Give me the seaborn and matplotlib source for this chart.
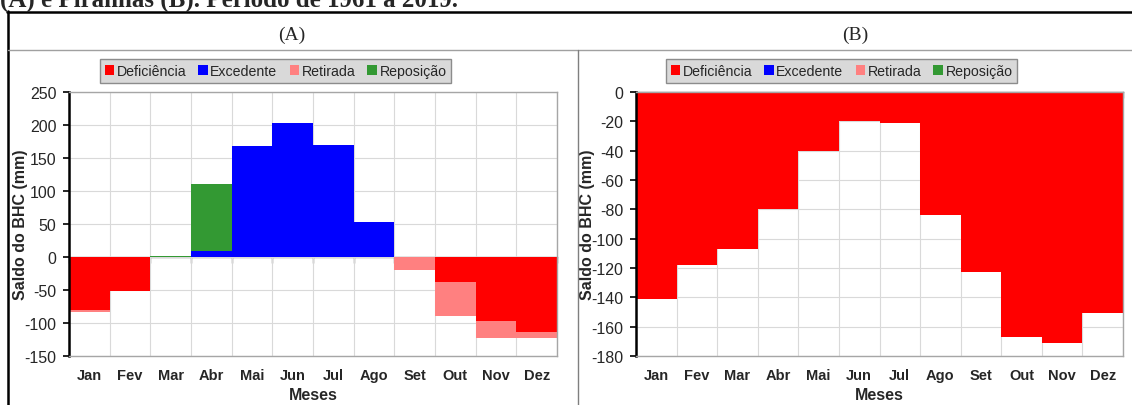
import numpy as np
import matplotlib
matplotlib.use("Agg")
import matplotlib.pyplot as plt
from matplotlib.patches import Patch
from matplotlib.lines import Line2D
import seaborn as sns

# Balanço hídrico climatológico – saldo mensal (mm)
meses = ["Jan", "Fev", "Mar", "Abr", "Mai", "Jun", "Jul", "Ago", "Set", "Out", "Nov", "Dez"]

# (A)
deficiencia_a = [-80, -52, 0, 0, 0, 0, 0, 0, 0, -38, -97, -114]
retirada_a = [-3, 0, 0, 0, 0, 0, 0, 0, -20, -51, -26, -9]
excedente_a = [0, 0, 0, 9, 168, 203, 170, 53, 0, 0, 0, 0]
reposicao_a = [0, 0, 1.5, 101, 0, 0, 0, 0, 0, 0, 0, 0]

# (B)
deficiencia_b = [-141, -118, -107, -80, -40, -20, -21, -84, -123, -167, -171, -151]
retirada_b = [0] * 12
excedente_b = [0] * 12
reposicao_b = [0] * 12

yticks_a = [250, 200, 150, 100, 50, 0, -50, -100, -150]
yticks_b = [0, -20, -40, -60, -80, -100, -120, -140, -160, -180]

componentes = ["Deficiência", "Excedente", "Retirada", "Reposição"]
cores = {"Deficiência": "#ff0000", "Excedente": "#0000ff",
         "Retirada": "#ff8080", "Reposição": "#339933"}

sns.set_style("white")
plt.rcParams["font.family"] = ["Liberation Sans", "DejaVu Sans"]

W, H = 1132, 406
fig = plt.figure(figsize=(W / 100, H / 100), dpi=100)


def fx(px):
    return px / W


def fy(py):
    return 1 - py / H


def barras(ax, valores, base, cor):
    sns.barplot(x=meses, y=valores, bottom=base, order=meses, color=cor,
                width=1.0, saturation=1, linewidth=0, errorbar=None, ax=ax)


def painel(ax, deficiencia, retirada, excedente, reposicao, ylim, yticks):
    barras(ax, deficiencia, 0, cores["Deficiência"])
    barras(ax, retirada, deficiencia, cores["Retirada"])
    barras(ax, excedente, 0, cores["Excedente"])
    barras(ax, reposicao, excedente, cores["Reposição"])

    ax.set_xlim(-0.5, 11.5)
    ax.set_ylim(*ylim)
    ax.set_yticks(yticks)
    ax.set_yticklabels([str(v) for v in yticks], fontsize=11.5)
    ax.set_xticks(range(12))
    ax.set_xticklabels(meses, fontsize=10.5, fontweight="bold")
    ax.set_xticks(np.arange(-0.5, 12, 1), minor=True)
    ax.tick_params(axis="x", which="both", length=0, pad=9)
    ax.tick_params(axis="y", which="major", direction="out", length=4,
                   width=1.2, color="black", left=True, pad=5)

    ax.grid(False)
    ax.grid(which="minor", axis="x", color="#d9d9d9", lw=0.8)
    ax.grid(which="major", axis="y", color="#d9d9d9", lw=0.8)
    ax.set_axisbelow(True)

    for lado in ["top", "right", "bottom"]:
        ax.spines[lado].set_color("#a6a6a6")
        ax.spines[lado].set_linewidth(1.0)
    ax.spines["left"].set_color("black")
    ax.spines["left"].set_linewidth(1.8)

    ax.set_xlabel("Meses", fontsize=11.5, fontweight="bold", labelpad=3)
    ax.set_ylabel("Saldo do BHC (mm)", fontsize=11.5, fontweight="bold")

    # eixo das categorias passando pelo zero
    zero = (0 - ylim[0]) / (ylim[1] - ylim[0])
    loc = "top" if zero >= 1 else zero
    sec = ax.secondary_xaxis(loc)
    sec.set_xticks(np.arange(-0.5, 12, 1))
    sec.set_xticklabels([""] * 13)
    sec.tick_params(length=4, width=1.0, color="#7f7f7f",
                    direction="in" if loc == "top" else "out")
    for s in sec.spines.values():
        s.set_color("#7f7f7f")
        s.set_linewidth(1.0)


ax_a = fig.add_axes([fx(69), fy(357), fx(557 - 69), fy(93) - fy(357)])
ax_b = fig.add_axes([fx(636), fy(357), fx(1123 - 636), fy(93) - fy(357)])

painel(ax_a, deficiencia_a, retirada_a, excedente_a, reposicao_a, (-150, 250), yticks_a)
painel(ax_b, deficiencia_b, retirada_b, excedente_b, reposicao_b, (-180, 0), yticks_b)
ax_a.yaxis.set_label_coords(-0.084, 0.5)
ax_b.yaxis.set_label_coords(-0.084, 0.5)

# legendas
handles = [Patch(facecolor=cores[c], edgecolor="none", label=c) for c in componentes]
for cx in (275.5, 841.5):
    fig.legend(handles=handles, loc="center", bbox_to_anchor=(fx(cx), fy(72)),
               ncol=4, fontsize=10.2, frameon=True, fancybox=False,
               facecolor="#d9d9d9", edgecolor="#8c8c8c", framealpha=1,
               handlelength=0.65, handleheight=0.65, handletextpad=0.2,
               columnspacing=0.85, borderpad=0.35, borderaxespad=0)

# cabeçalho da tabela
fig.text(fx(292), fy(35), "(A)", ha="center", va="center",
         family="Liberation Serif", fontsize=14)
fig.text(fx(855), fy(35), "(B)", ha="center", va="center",
         family="Liberation Serif", fontsize=14)
fig.text(fx(0), fy(7), "(A) e Piranhas (B). Período de 1961 a 2019.",
         ha="left", va="baseline", family="Liberation Serif",
         fontweight="bold", fontsize=18)

# linhas da tabela
fig.add_artist(Line2D([fx(7), 1], [fy(12.5), fy(12.5)], color="black", lw=1.8))
fig.add_artist(Line2D([fx(7.5), fx(7.5)], [fy(12), 0], color="black", lw=1.8))
fig.add_artist(Line2D([fx(8), 1], [fy(50.5), fy(50.5)], color="#a0a0a0", lw=1.0))
fig.add_artist(Line2D([fx(577.5), fx(577.5)], [fy(50.5), 0], color="#7f7f7f", lw=1.0))

fig.savefig("out.png", dpi=100)
